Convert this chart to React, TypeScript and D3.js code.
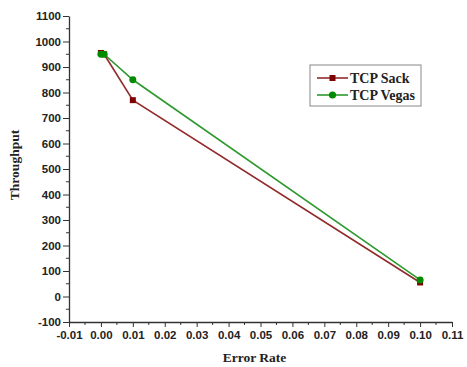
import { useEffect, useRef } from 'react';
import * as d3 from 'd3';

const errorRates = [0, 0.001, 0.01, 0.1];
const sackThroughput = [955, 950, 770, 55];
const vegasThroughput = [950, 950, 850, 65];
const xTicks = [-0.01, 0, 0.01, 0.02, 0.03, 0.04, 0.05, 0.06, 0.07, 0.08, 0.09, 0.1, 0.11];
const yTicks = [-100, 0, 100, 200, 300, 400, 500, 600, 700, 800, 900, 1000, 1100];
const seriesNames = ['TCP Sack', 'TCP Vegas'];

export default function App() {
  const svgRef = useRef<SVGSVGElement>(null);

  useEffect(() => {
    if (!svgRef.current) return;
    const width = 467;
    const height = 367;
    const margin = { top: 16, right: 15, bottom: 45, left: 69 };

    const root = d3.select(svgRef.current);
    root.selectAll('*').remove();
    root.attr('width', width).attr('height', height);

    const svg = root.append('g').attr('transform', `translate(${margin.left},${margin.top})`);
    const w = 452 - margin.left;
    const h = 322 - margin.top;

    const x = d3.scaleLinear().domain([-0.01, 0.11]).range([0, w]);
    const y = d3.scaleLinear().domain([-100, 1100]).range([h, 0]);

    const labelFont = 'Arial, "Liberation Sans", sans-serif';
    const titleFont = '"Times New Roman", "Liberation Serif", serif';

    // minor ticks
    const xMinor = d3.range(-0.005, 0.11, 0.01);
    const yMinor = d3.range(-50, 1100, 100);

    svg
      .append('g')
      .attr('transform', `translate(0,${h})`)
      .selectAll('line')
      .data(xMinor)
      .enter()
      .append('line')
      .attr('x1', (d) => x(d))
      .attr('x2', (d) => x(d))
      .attr('y1', 0)
      .attr('y2', 3)
      .attr('stroke', '#333')
      .attr('stroke-width', 1);

    svg
      .append('g')
      .selectAll('line')
      .data(yMinor)
      .enter()
      .append('line')
      .attr('x1', -3)
      .attr('x2', 0)
      .attr('y1', (d) => y(d))
      .attr('y2', (d) => y(d))
      .attr('stroke', '#333')
      .attr('stroke-width', 1);

    // axes
    const xAxis = svg
      .append('g')
      .attr('transform', `translate(0,${h})`)
      .call(
        d3.axisBottom(x)
          .tickValues(xTicks)
          .tickSize(5)
          .tickSizeOuter(0)
          .tickFormat((d) => Number(d).toFixed(2))
      );
    const yAxis = svg
      .append('g')
      .call(d3.axisLeft(y).tickValues(yTicks).tickSize(6).tickSizeOuter(0).tickFormat((d) => String(d)));

    [xAxis, yAxis].forEach((a) => {
      a.select('.domain').attr('stroke', '#333').attr('stroke-width', 1.3);
      a.selectAll('.tick line').attr('stroke', '#333').attr('stroke-width', 1);
      a.selectAll('.tick text')
        .style('font-family', labelFont)
        .style('font-size', '11.5px')
        .style('font-weight', 'bold')
        .attr('fill', '#222');
    });
    yAxis.selectAll('.tick text').attr('x', -8);
    xAxis.selectAll('.tick text').attr('y', 9);

    // axis titles
    svg
      .append('text')
      .attr('x', x(0.05) - 6)
      .attr('y', h + 40)
      .attr('text-anchor', 'middle')
      .style('font-family', titleFont)
      .style('font-size', '13.5px')
      .style('font-weight', 'bold')
      .attr('fill', '#222')
      .text('Error Rate');

    svg
      .append('text')
      .attr('transform', `translate(${-50},${y(500) - 4}) rotate(-90)`)
      .attr('text-anchor', 'middle')
      .style('font-family', titleFont)
      .style('font-size', '13.5px')
      .style('font-weight', 'bold')
      .attr('fill', '#222')
      .text('Throughput');

    const series = [
      { name: seriesNames[0], values: sackThroughput, line: '#922b2b', marker: '#7f0000', shape: 'square' },
      { name: seriesNames[1], values: vegasThroughput, line: '#2e9a2e', marker: '#008a00', shape: 'circle' },
    ];

    const line = d3
      .line<number>()
      .x((d, i) => x(errorRates[i]))
      .y((d) => y(d));

    series.forEach((s) => {
      svg
        .append('path')
        .datum(s.values)
        .attr('fill', 'none')
        .attr('stroke', s.line)
        .attr('stroke-width', 1.6)
        .attr('d', line);

      const sym = d3.symbol().type(s.shape === 'square' ? d3.symbolSquare : d3.symbolCircle).size(s.shape === 'square' ? 36 : 38);
      svg
        .append('g')
        .selectAll('path')
        .data(s.values)
        .enter()
        .append('path')
        .attr('transform', (d, i) => `translate(${x(errorRates[i])},${y(d)})`)
        .attr('d', sym)
        .attr('fill', s.marker);
    });

    // legend
    const legend = root.append('g').attr('transform', 'translate(310,65)');
    legend
      .append('rect')
      .attr('width', 111)
      .attr('height', 41)
      .attr('fill', '#fff')
      .attr('stroke', '#888')
      .attr('stroke-width', 1);

    series.forEach((s, i) => {
      const g = legend.append('g').attr('transform', `translate(0,${13 + i * 17})`);
      g.append('line')
        .attr('x1', 7)
        .attr('x2', 38)
        .attr('y1', 0)
        .attr('y2', 0)
        .attr('stroke', s.line)
        .attr('stroke-width', 1.6);
      g.append('path')
        .attr('transform', 'translate(22.5,0)')
        .attr('d', d3.symbol().type(s.shape === 'square' ? d3.symbolSquare : d3.symbolCircle).size(s.shape === 'square' ? 36 : 40)())
        .attr('fill', s.marker);
      g.append('text')
        .attr('x', 40)
        .attr('y', 5)
        .style('font-family', titleFont)
        .style('font-size', '14px')
        .style('font-weight', 'bold')
        .attr('fill', '#222')
        .text(s.name);
    });
  }, []);

  return (
    <div style={{ position: 'absolute', left: 0, top: 0, background: '#fff' }}>
      <svg ref={svgRef} style={{ display: 'block' }} />
    </div>
  );
}
